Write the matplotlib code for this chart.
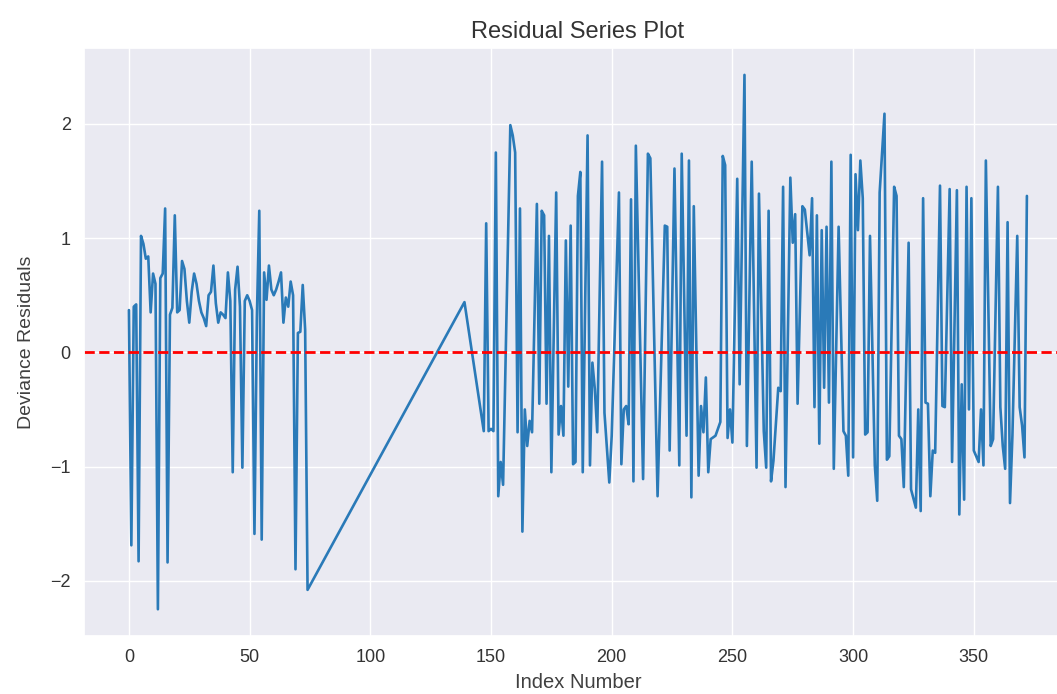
""" Residual series plot of deviance residuals against the index number. """
import matplotlib
matplotlib.use("Agg")
from matplotlib import pyplot as plt
import numpy as np
import seaborn as sns

# First block of observations (index 0..74)
first_idx = list(range(0, 75))
first_res = [0.37, -1.69, 0.40, 0.42, -1.83, 1.02, 0.95, 0.82, 0.84, 0.35,
             0.69, 0.60, -2.25, 0.65, 0.69, 1.26, -1.84, 0.33, 0.39, 1.20,
             0.35, 0.37, 0.80, 0.73, 0.45, 0.26, 0.53, 0.69, 0.60, 0.45,
             0.35, 0.30, 0.23, 0.50, 0.53, 0.76, 0.43, 0.26, 0.35, 0.33,
             0.30, 0.70, 0.45, -1.05, 0.55, 0.75, 0.40, -1.01, 0.45, 0.50,
             0.45, 0.37, -1.59, 0.30, 1.24, -1.64, 0.70, 0.46, 0.76, 0.55,
             0.50, 0.55, 0.62, 0.70, 0.26, 0.48, 0.40, 0.62, 0.50, -1.90,
             0.17, 0.18, 0.59, 0.20, -2.08]

# Single isolated observation
mid_idx = [139]
mid_res = [0.44]

# Second block of observations
second_idx = [147, 148, 149, 150, 151, 152, 153, 154, 155, 158,
              159, 160, 161, 162, 163, 164, 165, 166, 167, 169,
              170, 171, 172, 173, 174, 175, 177, 178, 179, 180,
              181, 182, 183, 184, 185, 186, 187, 188, 190, 191,
              192, 193, 194, 196, 197, 199, 200, 203, 204, 205,
              206, 207, 208, 209, 210, 213, 215, 216, 219, 222,
              223, 224, 226, 228, 229, 231, 232, 233, 234, 236,
              237, 238, 239, 240, 241, 243, 245, 246, 247, 248,
              249, 250, 252, 253, 255, 256, 258, 260, 261, 263,
              264, 265, 266, 267, 269, 270, 271, 272, 274, 275,
              276, 277, 279, 280, 282, 283, 284, 285, 286, 287,
              288, 289, 290, 291, 292, 294, 296, 297, 298, 299,
              300, 301, 302, 303, 304, 305, 306, 307, 309, 310,
              311, 313, 314, 315, 317, 318, 319, 320, 321, 323,
              324, 326, 327, 328, 329, 330, 331, 332, 333, 334,
              336, 337, 338, 340, 341, 343, 344, 345, 346, 347,
              348, 349, 350, 352, 353, 354, 355, 357, 358, 360,
              361, 362, 363, 364, 365, 366, 368, 369, 370, 371,
              372]
second_res = [-0.69, 1.13, -0.69, -0.67, -0.69, 1.75, -1.26, -0.96, -1.16, 1.99,
              1.90, 1.75, -0.70, 1.26, -1.57, -0.50, -0.82, -0.60, -0.70, 1.30,
              -0.45, 1.24, 1.20, -0.45, 1.02, -1.05, 1.40, -0.72, -0.47, -0.73,
              0.98, -0.30, 1.11, -0.98, -0.96, 1.37, 1.58, -1.05, 1.90, -0.99,
              -0.09, -0.32, -0.70, 1.67, -0.53, -1.14, -0.73, 1.40, -0.98, -0.50,
              -0.47, -0.63, 1.34, -1.13, 1.81, -1.11, 1.74, 1.70, -1.26, 1.11,
              1.10, -0.86, 1.61, -0.99, 1.74, -0.73, 1.68, -1.27, 1.28, -1.08,
              -0.47, -0.70, -0.22, -1.05, -0.76, -0.73, -0.61, 1.72, 1.64, -0.75,
              -0.50, -0.79, 1.52, -0.28, 2.43, -0.82, 1.67, -1.01, 1.39, -0.69,
              -1.01, 1.24, -1.13, -0.95, -0.31, -0.34, 1.45, -1.18, 1.53, 0.96,
              1.21, -0.45, 1.28, 1.25, 0.85, 1.35, -0.48, 1.20, -0.80, 1.07,
              -0.31, 1.10, -0.44, 1.67, -1.02, 1.10, -0.69, -0.73, -1.08, 1.73,
              -0.92, 1.56, 1.07, 1.68, 1.35, -0.72, -0.70, 1.02, -0.99, -1.30,
              1.40, 2.09, -0.94, -0.91, 1.45, 1.37, -0.73, -0.76, -1.18, 0.96,
              -1.20, -1.36, -0.50, -1.39, 1.35, -0.44, -0.45, -1.26, -0.86, -0.88,
              1.46, -0.47, -0.48, 1.43, -0.96, 1.42, -1.42, -0.28, -1.29, 1.45,
              -0.50, 1.35, -0.86, -0.96, -0.50, -0.99, 1.68, -0.82, -0.76, 1.45,
              -0.48, -0.82, -1.02, 1.14, -1.32, -0.73, 1.02, -0.48, -0.64, -0.92,
              1.37]


def run():
    """ Draw the residuals as a line with a zero reference line. """
    sns.set_theme(style="darkgrid")
    plt.rcParams["font.family"] = ["Liberation Sans", "DejaVu Sans"]

    index = np.array(first_idx + mid_idx + second_idx)
    residuals = np.array(first_res + mid_res + second_res)

    fig = plt.figure(figsize=(10.57, 6.94), dpi=100)
    ax = fig.add_axes([0.0795, 0.0836, 0.9345, 0.847])

    ax.plot(index, residuals, color="#2a7ab8", linewidth=1.9)
    ax.axhline(0, color="red", linestyle="--", linewidth=2)

    ax.set_title("Residual Series Plot", fontsize=17, color="0.2", pad=7)
    ax.set_xlabel("Index Number", fontsize=14.5, color="0.25", labelpad=5)
    ax.set_ylabel("Deviance Residuals", fontsize=14, color="0.25",
                  labelpad=11)
    ax.tick_params(labelsize=13, colors="0.2")
    ax.set_yticks([-2, -1, 0, 1, 2])

    fig.savefig("out.png", dpi=100)


run()
